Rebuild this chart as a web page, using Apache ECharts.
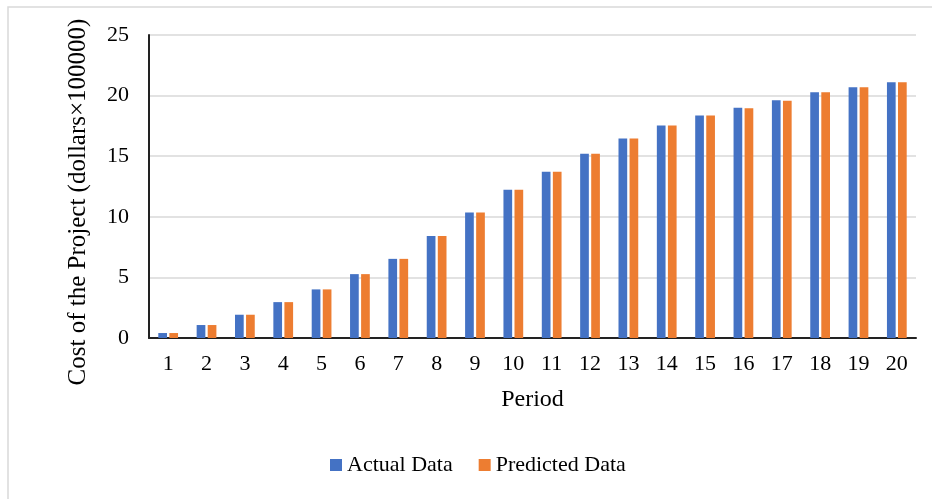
<!DOCTYPE html>
<html>
<head>
<meta charset="utf-8">
<script src="https://cdn.jsdelivr.net/npm/echarts@6/dist/echarts.min.js"></script>
<style>
  html, body { margin: 0; padding: 0; background: #fff; }
  #chart { width: 932px; height: 499px; }
</style>
</head>
<body>
<div id="chart"></div>
<script>
// Periods on the category axis
const periods = ['1','2','3','4','5','6','7','8','9','10','11','12','13','14','15','16','17','18','19','20'];
// Project cost (dollars × 100000)
const actualData = [0.41, 1.07, 1.92, 2.96, 4.01, 5.27, 6.53, 8.42, 10.35, 12.24, 13.72, 15.20, 16.47, 17.54, 18.36, 18.99, 19.62, 20.28, 20.69, 21.10];
const predictedData = [0.41, 1.07, 1.92, 2.96, 4.01, 5.27, 6.53, 8.42, 10.35, 12.24, 13.72, 15.20, 16.47, 17.54, 18.36, 18.96, 19.57, 20.28, 20.69, 21.10];
const seriesNames = ['Actual Data', 'Predicted Data'];
const yTitle = 'Cost of the Project (dollars\u00d7100000)';
const xTitle = 'Period';

const FONT = '"Liberation Serif", "Times New Roman", serif';

const chart = echarts.init(document.getElementById('chart'));
chart.setOption({
  backgroundColor: '#fff',
  animation: false,
  textStyle: { fontFamily: FONT, color: '#000' },
  grid: { left: 149, right: 16, top: 35, bottom: 161, containLabel: false },
  legend: {
    data: seriesNames,
    left: 325,
    top: 449,
    icon: 'rect',
    itemWidth: 12,
    itemHeight: 12,
    itemGap: 26,
    textStyle: { fontFamily: FONT, fontSize: 22, color: '#000' }
  },
  graphic: [
    {
      type: 'rect',
      silent: true,
      shape: { x: 8, y: 7, width: 940, height: 520 },
      style: { fill: 'none', stroke: '#d9d9d9', lineWidth: 1.5 }
    },
    {
      type: 'text',
      silent: true,
      x: 78,
      y: 202,
      rotation: Math.PI / 2,
      style: {
        text: yTitle,
        fontFamily: FONT,
        fontSize: 25,
        fill: '#000',
        align: 'center',
        verticalAlign: 'middle'
      }
    }
  ],
  xAxis: {
    type: 'category',
    data: periods,
    name: xTitle,
    nameLocation: 'middle',
    nameGap: 50,
    nameTextStyle: { fontFamily: FONT, fontSize: 24, color: '#000' },
    axisLine: { lineStyle: { color: '#222', width: 2 } },
    axisTick: { show: false },
    axisLabel: { fontFamily: FONT, fontSize: 22, color: '#000', margin: 15, interval: 0 }
  },
  yAxis: {
    type: 'value',
    min: 0,
    max: 25,
    interval: 5,
    axisLine: { show: true, lineStyle: { color: '#222', width: 2 } },
    axisTick: { show: false },
    axisLabel: { fontFamily: FONT, fontSize: 22, color: '#000', margin: 20 },
    splitLine: { lineStyle: { color: '#d9d9d9', width: 1.5 } }
  },
  series: [
    {
      name: seriesNames[0],
      type: 'bar',
      data: actualData,
      barWidth: 8.7,
      barGap: '27%',
      itemStyle: { color: '#4472C4' }
    },
    {
      name: seriesNames[1],
      type: 'bar',
      data: predictedData,
      barWidth: 8.7,
      itemStyle: { color: '#ED7D31' }
    }
  ]
});
</script>
</body>
</html>
